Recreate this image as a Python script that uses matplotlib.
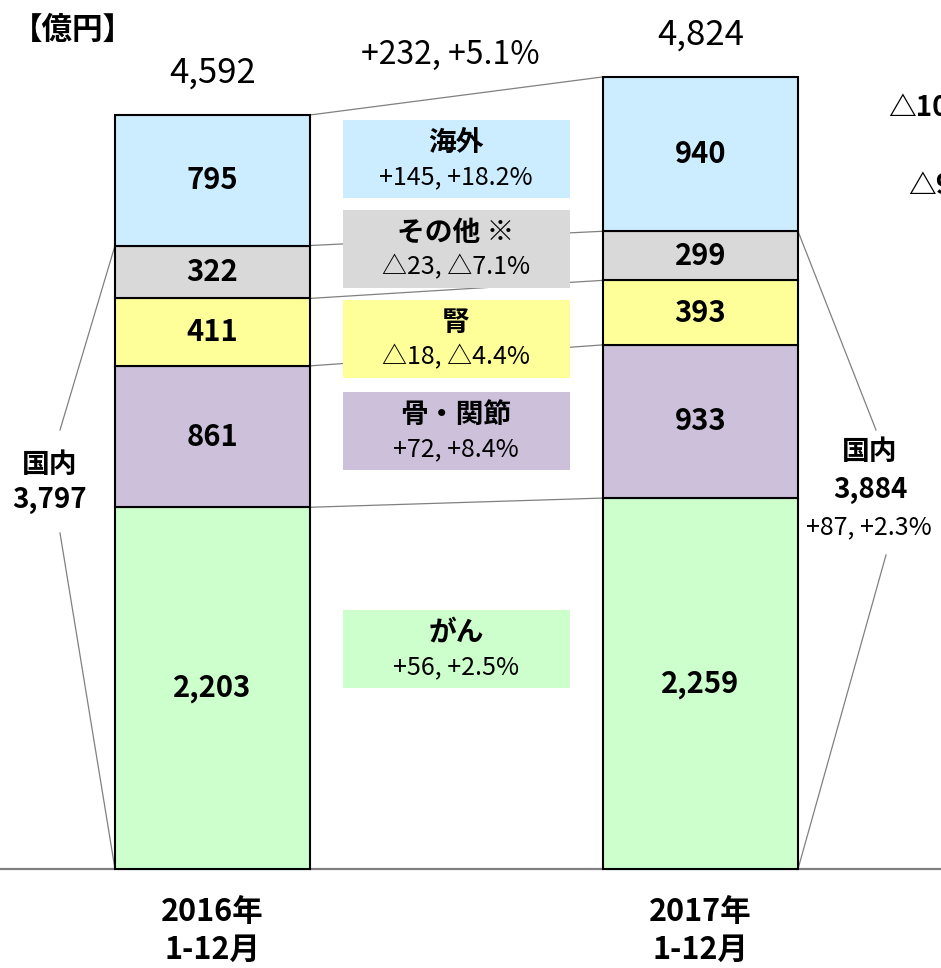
"""Stacked sales bars, 2016 vs 2017 (億円)"""
import matplotlib
matplotlib.use('Agg')
import matplotlib.pyplot as plt
from matplotlib.patches import Rectangle
import numpy as np

plt.rcParams['font.family'] = ['Noto Sans CJK JP', 'DejaVu Sans']

years = ["2016年\n1-12月", "2017年\n1-12月"]
segments = ["がん", "骨・関節", "腎", "その他 ※", "海外"]
values_2016 = [2203, 861, 411, 322, 795]
values_2017 = [2259, 933, 393, 299, 940]
changes = ["+56, +2.5%", "+72, +8.4%", "△18, △4.4%", "△23, △7.1%", "+145, +18.2%"]
colors = ["#CCFFCC", "#CCC0DA", "#FFFF99", "#D9D9D9", "#CCECFF"]
totals = [4592, 4824]
total_change = "+232, +5.1%"
domestic = [3797, 3884]
domestic_change = "+87, +2.3%"

W, H = 941, 968
fig = plt.figure(figsize=(W / 100, H / 100), dpi=100)
ax = fig.add_axes([0, 0, 1, 1])

# pixel layout of the original picture -> data coords
x0_px, dx_px = 212.5, 488.0
base_px, scale = 869.0, 0.1642
ax.set_xlim(-x0_px / dx_px, (W - x0_px) / dx_px)
ax.set_ylim(-(H - base_px) / scale, base_px / scale)
ax.axis('off')


def px(x):
    return (x - x0_px) / dx_px


def py(y):
    return (base_px - y) / scale


bw = 195 / dx_px
vals = np.array([values_2016, values_2017])
cum = np.cumsum(vals, axis=1)
starts = cum - vals
xs = np.arange(2)

for i in range(len(segments)):
    ax.bar(xs, vals[:, i], bottom=starts[:, i], width=bw, color=colors[i],
           edgecolor='black', linewidth=1.5, zorder=3)
    for j in range(2):
        ax.text(xs[j], starts[j, i] + vals[j, i] / 2, f"{vals[j, i]:,}",
                ha='center', va='center', fontsize=21, fontweight='bold', zorder=5)

# connector lines between bars
for i in range(len(segments)):
    ax.plot([bw / 2, 1 - bw / 2], [cum[0, i], cum[1, i]], color='#808080',
            lw=0.9, zorder=1)

# baseline
ax.axhline(0, color='#808080', lw=1.6, zorder=2)

# totals
for j in range(2):
    ax.text(xs[j], totals[j] + 150, f"{totals[j]:,}", ha='center', va='bottom',
            fontsize=25)
ax.text(px(450), py(55), total_change, ha='center', va='center', fontsize=23)
ax.text(px(12), py(30), "【億円】", ha='left', va='center', fontsize=22,
        fontweight='bold')

# change boxes
box_top = [610, 392, 300, 210, 120]
box_h = 78
for i in range(len(segments)):
    t = box_top[i]
    ax.add_patch(Rectangle((px(343), py(t + box_h)), px(570) - px(343),
                           py(t) - py(t + box_h), facecolor=colors[i],
                           edgecolor='none', zorder=4))
    ax.text(px(456), py(t + 23), segments[i], ha='center', va='center',
            fontsize=20, fontweight='bold', zorder=5)
    ax.text(px(456), py(t + 57), changes[i], ha='center', va='center',
            fontsize=18, zorder=5)

# domestic brackets
ax.plot([-bw / 2, px(60)], [domestic[0], py(430)], color='#808080', lw=0.9)
ax.plot([px(60), -bw / 2], [py(533), 0], color='#808080', lw=0.9)
ax.plot([1 + bw / 2, px(876)], [domestic[1], py(430)], color='#808080', lw=0.9)
ax.plot([px(886), 1 + bw / 2], [py(555), 0], color='#808080', lw=0.9)

ax.text(px(50), py(465), "国内", ha='center', va='center', fontsize=20,
        fontweight='bold')
ax.text(px(50), py(500), f"{domestic[0]:,}", ha='center', va='center',
        fontsize=20, fontweight='bold')
ax.text(px(870), py(452), "国内", ha='center', va='center', fontsize=20,
        fontweight='bold')
ax.text(px(870), py(490), f"{domestic[1]:,}", ha='center', va='center',
        fontsize=20, fontweight='bold')
ax.text(px(806), py(527), domestic_change, ha='left', va='center', fontsize=18)

# cut-off notes at the right edge
ax.text(px(888), py(108), "△10", ha='left', va='center', fontsize=20,
        fontweight='bold')
ax.text(px(908), py(186), "△9", ha='left', va='center', fontsize=20,
        fontweight='bold')

# category labels
for j in range(2):
    top, bottom = years[j].split("\n")
    ax.text(xs[j], py(912), top, ha='center', va='center',
            fontsize=22, fontweight='bold')
    ax.text(xs[j], py(950), bottom, ha='center', va='center',
            fontsize=22, fontweight='bold')

fig.savefig("out.png", dpi=100)
plt.close(fig)
print("Saved: out.png")
